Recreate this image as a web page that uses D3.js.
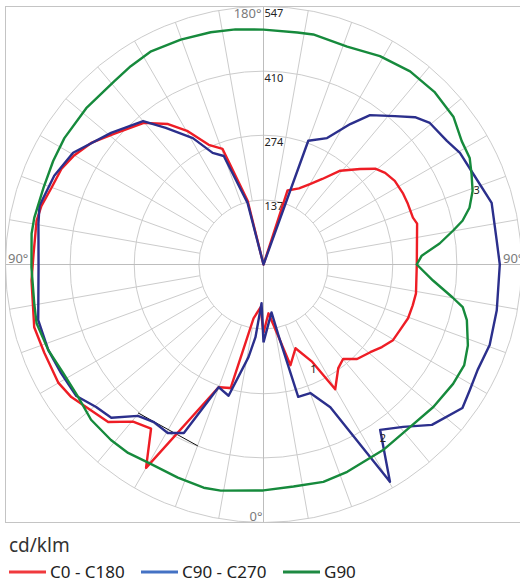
<!DOCTYPE html>
<html>
<head>
<meta charset="utf-8">
<script src="https://cdn.jsdelivr.net/npm/d3@7"></script>
<style>
  body { margin: 0; background: #fff; }
  svg { display: block; font-family: "Noto Sans", "Open Sans", sans-serif; }
</style>
</head>
<body>
<script>
// polar luminous intensity diagram, values in cd/klm
// angle: 0 = bottom, 90 = right, 180 = top, 270 = left

var ringValues = [137, 274, 410, 547];
var maxValue = 547;

var c0c180 = [
  [0,145],[5.8,104],[11.3,151],[15,221],[20.9,190],[26.6,231],[29.9,305],[35.8,271],
  [40.1,262],[44.7,282],[50.6,293],[55.1,306],[59.7,318],[64.3,321],[69.6,327],[74.7,328],
  [79.3,329],[90,325],[104.9,337],[107.4,332],[112.8,332],[116.9,332],[122.5,330],[127,323],
  [130.6,312],[134.7,288],[140.7,257],[145.5,220],[150,197],[155,178],[162,165],[180,0],
  [194,139],[199.5,260],[204.6,279],[209.6,325],[214.2,360],[220.2,393],[228.9,421],[234.8,447],
  [240.3,464],[244.7,474],[250.1,478],[255.2,487],[259.1,490],[267.3,488],[273.9,493],[285.3,504],
  [292,501],[300,502],[304.6,495],[315.4,469],[320.3,433],[325.6,422],[330,498],[339.9,277],
  [345.1,271],[349.5,116],[356,91],[360,145]
];

var c90c270 = [
  [0,165],[9.5,103],[11.9,153],[14.7,290],[20,290],[25.1,334],[30.2,533],[35.2,429],
  [40.7,454],[46.4,493],[54.2,520],[58.7,512],[63.8,506],[70.4,509],[78.9,504],[90,501],
  [95.9,497],[105.1,501],[113.7,484],[119.6,479],[124,469],[130.4,463],[134.2,448],[138.5,420],
  [144.5,389],[148.3,350],[153.3,300],[160.1,279],[180,0],
  [194.5,135],[200.1,245],[204.5,260],[209.2,307],[215.6,356],[220,397],[229.2,427],[239.6,468],
  [247,482],[255.3,491],[259.7,485],[270.8,477],[283.9,492],[291.7,491],[298.2,487],[305.1,485],
  [310.4,466],[315.2,458],[320.3,417],[325.2,407],[330.4,411],[334.7,395],[339.9,277],[345.1,288],
  [350.8,199],[353.7,155],[357.1,82],[360,165]
];

var g90 = [
  [0,479],[7.7,475],[15.4,478],[22,474],[32.8,468],[42.2,464],[50,470],[57.8,475],
  [63.4,476],[68.4,466],[74.7,447],[77.9,432],[80.1,407],[84.6,361],[90,325],[93.2,336],
  [96.8,376],[100.1,408],[102.4,432],[105.4,453],[109.4,470],[113.5,481],[117.3,492],[121.9,495],
  [127.8,510],[135.3,515],[142.8,514],[150.8,506],[159,495],[167.8,499],[171.7,497],[180,498],
  [186.8,502],[192.8,505],[200.2,508],[207.8,511],[213.8,506],[219.2,501],[228.6,501],[237.6,500],
  [243.8,497],[250.8,494],[258.5,496],[262.4,496],[270.7,492],[279.6,493],[284.5,497],[291.7,491],
  [298.5,483],[305.6,483],[312,492],[319,493],[324.3,492],[329.8,486],[338.1,487],[345,490],
  [349.3,488],[360,479]
];

// small marks printed on the diagram
var markLabels = [["1", 25.5, 246], ["2", 34.6, 446], ["3", 109.3, 479]];
var markLine = [[319.8, 412], [340.1, 409]];

var seriesNames = ["C0 - C180", "C90 - C270", "G90"];

var width = 520,
    height = 583,
    cx = 263.5,
    cy = 264.5,
    R = 258;

var svg = d3.select("body").append("svg")
    .attr("width", width)
    .attr("height", height);

var rScale = d3.scaleLinear().domain([0, maxValue]).range([0, R]);
// d3 radial angle: 0 at top, clockwise
var aScale = d3.scaleLinear().domain([0, 360]).range([Math.PI, -Math.PI]);

function px(d) { return cx + rScale(d[1]) * Math.sin(aScale(d[0])); }
function py(d) { return cy - rScale(d[1]) * Math.cos(aScale(d[0])); }

var g = svg.append("g").attr("transform", "translate(" + cx + "," + cy + ")");

//frame
svg.append("rect")
    .attr("x", cx - R).attr("y", cy - R)
    .attr("width", 2 * R).attr("height", 2 * R)
    .attr("fill", "none").attr("stroke", "#c4c4c4").attr("stroke-width", 1);

//rings
g.selectAll(".ring")
    .data(ringValues)
    .enter().append("circle")
    .attr("class", "ring")
    .attr("r", function(d){ return rScale(d); })
    .attr("fill", "none")
    .attr("stroke", "#cccccc")
    .attr("stroke-width", 1);

//spokes every 10 degrees, starting at first ring (axes go through centre)
var spokes = d3.range(0, 360, 10);
g.selectAll(".spoke")
    .data(spokes)
    .enter().append("line")
    .attr("class", "spoke")
    .attr("x1", function(d){ return (d % 90 === 0 ? 0 : rScale(ringValues[0])) * Math.sin(aScale(d)); })
    .attr("y1", function(d){ return -(d % 90 === 0 ? 0 : rScale(ringValues[0])) * Math.cos(aScale(d)); })
    .attr("x2", function(d){ return R * Math.sin(aScale(d)); })
    .attr("y2", function(d){ return -R * Math.cos(aScale(d)); })
    .attr("stroke", function(d){ return d % 90 === 0 ? "#bdbdbd" : "#cccccc"; })
    .attr("stroke-width", 1);

//ring value labels
g.selectAll(".ringLabel")
    .data(ringValues)
    .enter().append("text")
    .attr("class", "ringLabel")
    .attr("x", 1)
    .attr("y", function(d){ return -rScale(d) + 10.5; })
    .attr("font-size", 11)
    .attr("fill", "#222")
    .text(function(d){ return d; });

//angle labels
var angleLabels = [
  {t: "180°", x: cx - 2, y: 18, a: "end"},
  {t: "0°", x: cx - 1, y: 521, a: "end"},
  {t: "90°", x: 8, y: 263, a: "start"},
  {t: "90°", x: 503, y: 263, a: "start"}
];
svg.selectAll(".angleLabel")
    .data(angleLabels)
    .enter().append("text")
    .attr("class", "angleLabel")
    .attr("x", function(d){ return d.x; })
    .attr("y", function(d){ return d.y; })
    .attr("text-anchor", function(d){ return d.a; })
    .attr("font-size", 13)
    .attr("fill", "#7a7a7a")
    .text(function(d){ return d.t; });

var radial = d3.lineRadial()
    .angle(function(d){ return aScale(d[0]); })
    .radius(function(d){ return rScale(d[1]); });

//thin black mark
g.append("path")
    .datum(markLine)
    .attr("d", d3.line().x(function(d){ return px(d) - cx; }).y(function(d){ return py(d) - cy; }))
    .attr("stroke", "#111").attr("stroke-width", 1).attr("fill", "none");

var curves = [
  {data: c0c180, color: "#ee1d25"},
  {data: c90c270, color: "#2b2f8c"},
  {data: g90, color: "#168a3c"}
];

g.selectAll(".curve")
    .data(curves)
    .enter().append("path")
    .attr("class", "curve")
    .attr("d", function(d){ return radial(d.data); })
    .attr("fill", "none")
    .attr("stroke", function(d){ return d.color; })
    .attr("stroke-width", 2.4)
    .attr("stroke-linejoin", "round");

svg.selectAll(".markLabel")
    .data(markLabels)
    .enter().append("text")
    .attr("class", "markLabel")
    .attr("x", function(d){ return px([d[1], d[2]]); })
    .attr("y", function(d){ return py([d[1], d[2]]) + 4; })
    .attr("text-anchor", "middle")
    .attr("font-size", 11)
    .attr("fill", "#222")
    .text(function(d){ return d[0]; });

//legend
svg.append("text")
    .attr("x", 9).attr("y", 552)
    .attr("font-size", 19)
    .attr("fill", "#333")
    .text("cd/klm");

var legendColors = ["#f0393d", "#4472c4", "#1e8a42"];
var legendX = [9, 141, 283];
var legend = svg.selectAll(".legend")
    .data(seriesNames)
    .enter().append("g")
    .attr("class", "legend")
    .attr("transform", function(d, i){ return "translate(" + legendX[i] + ",572)"; });

legend.append("line")
    .attr("x1", 0).attr("x2", 37)
    .attr("stroke", function(d, i){ return legendColors[i]; })
    .attr("stroke-width", 3);

legend.append("text")
    .attr("x", 41).attr("y", 6)
    .attr("font-size", 17)
    .attr("fill", "#222")
    .text(function(d){ return d; });
</script>
</body>
</html>
